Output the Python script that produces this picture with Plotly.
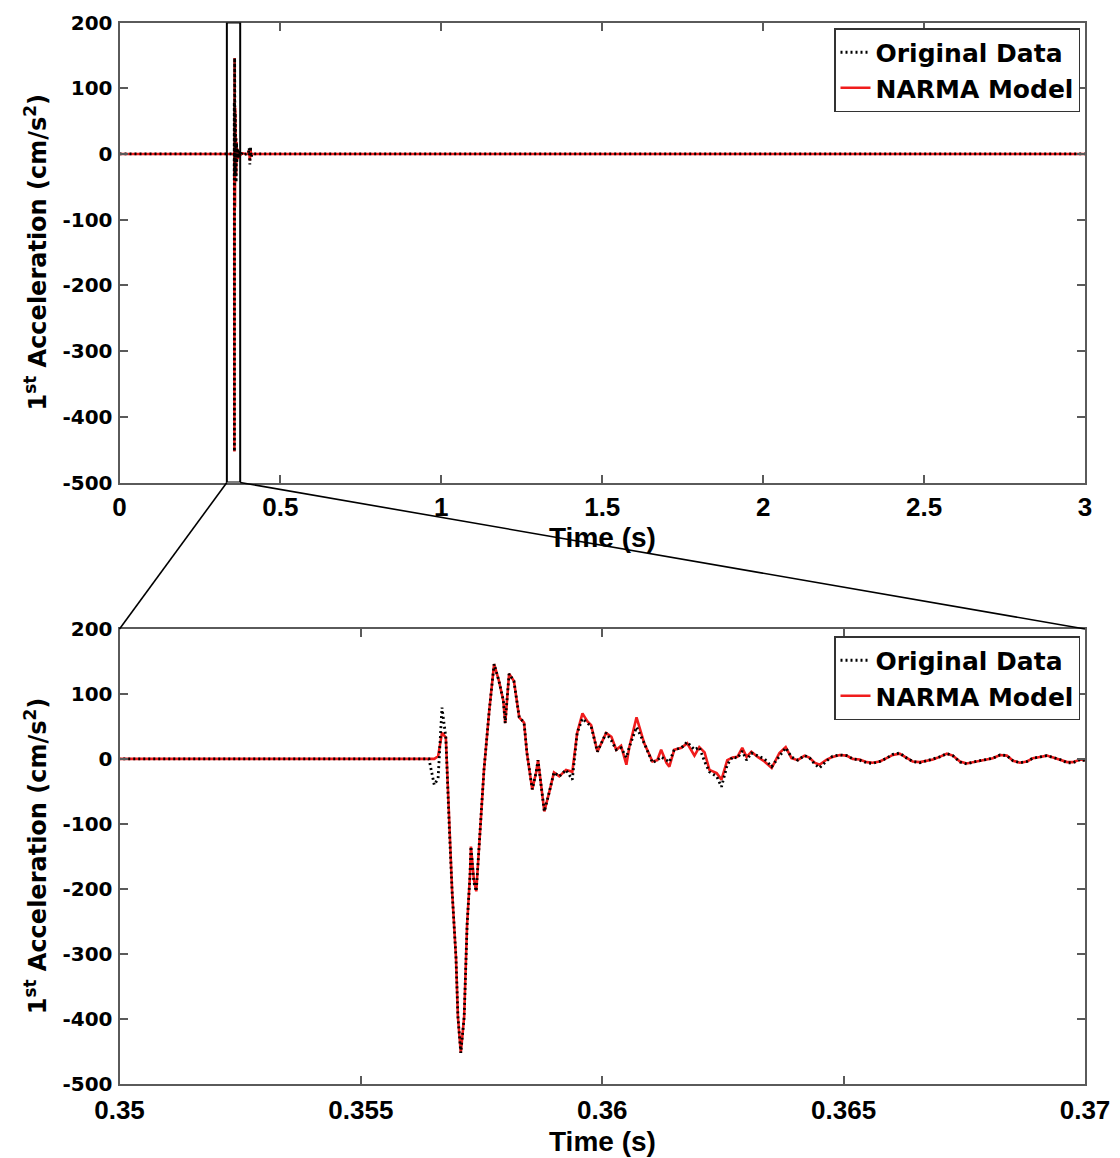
import plotly.graph_objects as go

# ---------------------------------------------------------------------------
# First-floor acceleration record and NARMA model output
# ---------------------------------------------------------------------------
time_s = [
    0.0, 0.35641, 0.35652, 0.35660, 0.35668, 0.35676, 0.35683, 0.35689,
    0.35697, 0.35701, 0.35707, 0.35714, 0.35720, 0.35726, 0.35728, 0.35734,
    0.35739, 0.35745, 0.35755, 0.35766, 0.35776, 0.35786, 0.35795, 0.35799,
    0.35807, 0.35817, 0.35828, 0.35838, 0.35844, 0.35855, 0.35863, 0.35867,
    0.35873, 0.35880, 0.35890, 0.35900, 0.35911, 0.35925, 0.35938, 0.35948,
    0.35959, 0.35969, 0.35977, 0.35990, 0.36008, 0.36019, 0.36029, 0.36039,
    0.36050, 0.36056, 0.36071, 0.36087, 0.36104, 0.36114, 0.36122, 0.36133,
    0.36139, 0.36149, 0.36164, 0.36176, 0.36191, 0.36201, 0.36212, 0.36222,
    0.36237, 0.36247, 0.36259, 0.36270, 0.36280, 0.36290, 0.36299, 0.36309,
    0.36322, 0.36336, 0.36351, 0.36367, 0.36380, 0.36392, 0.36405, 0.36419,
    0.36429, 0.36440, 0.36450, 0.36465, 0.36477, 0.36492, 0.36506, 0.36519,
    0.36533, 0.36548, 0.36560, 0.36575, 0.36589, 0.36602, 0.36616, 0.36631,
    0.36643, 0.36658, 0.36672, 0.36685, 0.36699, 0.36714, 0.36726, 0.36741,
    0.36755, 0.36768, 0.36782, 0.36797, 0.36809, 0.36824, 0.36838, 0.36851,
    0.36865, 0.36880, 0.36892, 0.36907, 0.36921, 0.36934, 0.36948, 0.36963,
    0.36975, 0.36990, 0.37000, 0.3730, 0.3770, 0.3820, 0.3880, 0.3950,
    0.4000, 0.4030, 0.4050, 0.4070, 0.4090, 0.4120, 3.0,
]

original_data = [
    0, 0, -40, -30, 79, 33, -103, -204,
    -306, -397, -453, -397, -256, -180, -135, -190,
    -204, -134, -17, 75, 146, 120, 90, 55,
    131, 120, 64, 56, 9, -47, -21, -2,
    -43, -81, -52, -21, -27, -17, -32, 40,
    62, 55, 50, 11, 40, 28, 14, 17,
    2, 18, 49, 24, -6, -2, 3, -2,
    -5, 14, 17, 26, 14, 18, -4, -20,
    -27, -43, -9, 3, 1, 12, -2, 9,
    5, 0, -12, 5, 17, 3, -2, 5,
    2, -8, -14, -3, 4, 6, 5, 0,
    -2, -6, -7, -4, 1, 7, 9, 1,
    -4, -6, -3, -1, 3, 8, 5, -5,
    -8, -5, -3, -1, 1, 6, 5, -3,
    -6, -4, 1, 3, 5, 2, -1, -6,
    -6, -1, -3, 3, -2, 2, -1, 0,
    0, 9, -16, 11, -5, 0, 0,
]

narma_model = [
    0, 0, 0, 4, 40, 33, -103, -204,
    -306, -397, -453, -397, -256, -180, -135, -185,
    -204, -134, -17, 75, 146, 120, 90, 55,
    131, 120, 64, 56, 9, -47, -21, -2,
    -43, -81, -52, -21, -27, -17, -20, 40,
    70, 58, 52, 11, 40, 34, 14, 20,
    -9, 18, 64, 24, -4, -2, 14, -6,
    -12, 14, 17, 24, 5, 18, 10, -17,
    -22, -32, -2, 2, 3, 17, 3, 11,
    3, -4, -14, 9, 18, 1, -2, 5,
    2, -6, -9, -1, 3, 6, 5, 0,
    -1, -5, -6, -4, 1, 6, 8, 1,
    -4, -5, -3, -1, 3, 8, 5, -4,
    -7, -5, -3, -1, 1, 6, 5, -3,
    -6, -4, 1, 3, 5, 2, -1, -5,
    -5, -1, -2, 2, -1, 1, 0, 0,
    0, 6, -10, 8, -3, 0, 0,
]

# Axis settings
full_range = [0, 3]
full_ticks = [0, 0.5, 1, 1.5, 2, 2.5, 3]
full_ticktext = ["0", "0.5", "1", "1.5", "2", "2.5", "3"]
zoom_range = [0.35, 0.37]
zoom_ticks = [0.35, 0.355, 0.36, 0.365, 0.37]
zoom_ticktext = ["0.35", "0.355", "0.36", "0.365", "0.37"]
acc_range = [-500, 200]
acc_ticks = [-500, -400, -300, -200, -100, 0, 100, 200]
acc_ticktext = ["-500", "-400", "-300", "-200", "-100", "0", "100", "200"]

# Extent of the highlighted window on the full record
window_x = [0.3336, 0.375]

# ---------------------------------------------------------------------------
W, H = 1120, 1158
x_dom = [119.5 / W, 1085 / W]
top_dom = [1 - 482.5 / H, 1 - 22.5 / H]
bot_dom = [1 - 1083.5 / H, 1 - 629 / H]

WIDE = "DejaVu Sans"
ARIAL = "Liberation Sans"
RED = "#f01c1c"
AXIS_GREY = "#5a5a5a"

fig = go.Figure()

for xa, ya, leg in (("x", "y", "legend"), ("x2", "y2", "legend2")):
    fig.add_trace(go.Scatter(
        x=time_s, y=narma_model, mode="lines", name="NARMA Model",
        line=dict(color=RED, width=2.6), xaxis=xa, yaxis=ya,
        legend=leg, legendrank=2, legendgroup="narma" + leg,
    ))
    fig.add_trace(go.Scatter(
        x=time_s, y=original_data, mode="lines", name="Original Data",
        line=dict(color="black", width=2.8, dash="2px,3px"), xaxis=xa, yaxis=ya,
        legend=leg, legendrank=1, legendgroup="orig" + leg,
    ))

common_axis = dict(
    showline=True, linecolor=AXIS_GREY, linewidth=2, mirror="ticks",
    ticks="inside", ticklen=8, tickwidth=1.5, tickcolor=AXIS_GREY,
    showgrid=False, zeroline=False, automargin=False,
)
xfont = dict(family=ARIAL, size=26, color="black", weight="bold")
yfont = dict(family=WIDE, size=20, color="black", weight="bold")

fig.update_layout(
    width=W, height=H, margin=dict(l=0, r=0, t=0, b=0),
    paper_bgcolor="white", plot_bgcolor="white", showlegend=True,
    xaxis=dict(domain=x_dom, range=full_range, tickvals=full_ticks,
               ticktext=full_ticktext, tickfont=xfont, anchor="y",
               ticklabelstandoff=0, **common_axis),
    yaxis=dict(domain=top_dom, range=acc_range, tickvals=acc_ticks,
               ticktext=acc_ticktext, tickfont=yfont, anchor="x",
               ticklabelstandoff=1, **common_axis),
    xaxis2=dict(domain=x_dom, range=zoom_range, tickvals=zoom_ticks,
                ticktext=zoom_ticktext, tickfont=xfont, anchor="y2",
                ticklabelstandoff=2, **common_axis),
    yaxis2=dict(domain=bot_dom, range=acc_range, tickvals=acc_ticks,
                ticktext=acc_ticktext, tickfont=yfont, anchor="x2",
                ticklabelstandoff=1, **common_axis),
)

legend_style = dict(
    xanchor="right", yanchor="top", x=1080 / W,
    bgcolor="white", bordercolor="#333333", borderwidth=1.5,
    font=dict(family=WIDE, size=25, color="black", weight="bold"),
    traceorder="grouped", tracegroupgap=0, itemwidth=30,
)
fig.update_layout(
    legend=dict(y=1 - 28 / H, **legend_style),
    legend2=dict(y=1 - 636 / H, **legend_style),
)

# Axis titles
ytitle = "1<sup>st</sup> Acceleration (cm/s<sup>2</sup>)"
for dom in (top_dom, bot_dom):
    fig.add_annotation(
        text=ytitle, xref="paper", yref="paper", x=36 / W,
        y=(dom[0] + dom[1]) / 2, textangle=-90, showarrow=False,
        xanchor="center", yanchor="middle",
        font=dict(family=WIDE, size=24, color="black", weight="bold"),
    )
for ypix in (537, 1141):
    fig.add_annotation(
        text="Time (s)", xref="paper", yref="paper",
        x=(x_dom[0] + x_dom[1]) / 2, y=1 - ypix / H, showarrow=False,
        xanchor="center", yanchor="middle",
        font=dict(family=ARIAL, size=28, color="black", weight="bold"),
    )

# Highlighted window on the full record and its connectors to the zoomed view
fig.add_shape(type="rect", xref="x", yref="y", x0=window_x[0], x1=window_x[1],
              y0=acc_range[0], y1=acc_range[1],
              line=dict(color="black", width=2))


def to_paper(t):
    frac = (t - full_range[0]) / (full_range[1] - full_range[0])
    return x_dom[0] + frac * (x_dom[1] - x_dom[0])


fig.add_shape(type="line", xref="paper", yref="paper",
              x0=to_paper(window_x[0]), y0=top_dom[0], x1=x_dom[0], y1=bot_dom[1],
              line=dict(color="black", width=1.6))
fig.add_shape(type="line", xref="paper", yref="paper",
              x0=to_paper(window_x[1]), y0=top_dom[0], x1=x_dom[1], y1=bot_dom[1],
              line=dict(color="black", width=1.6))

fig.write_html("out.html")
